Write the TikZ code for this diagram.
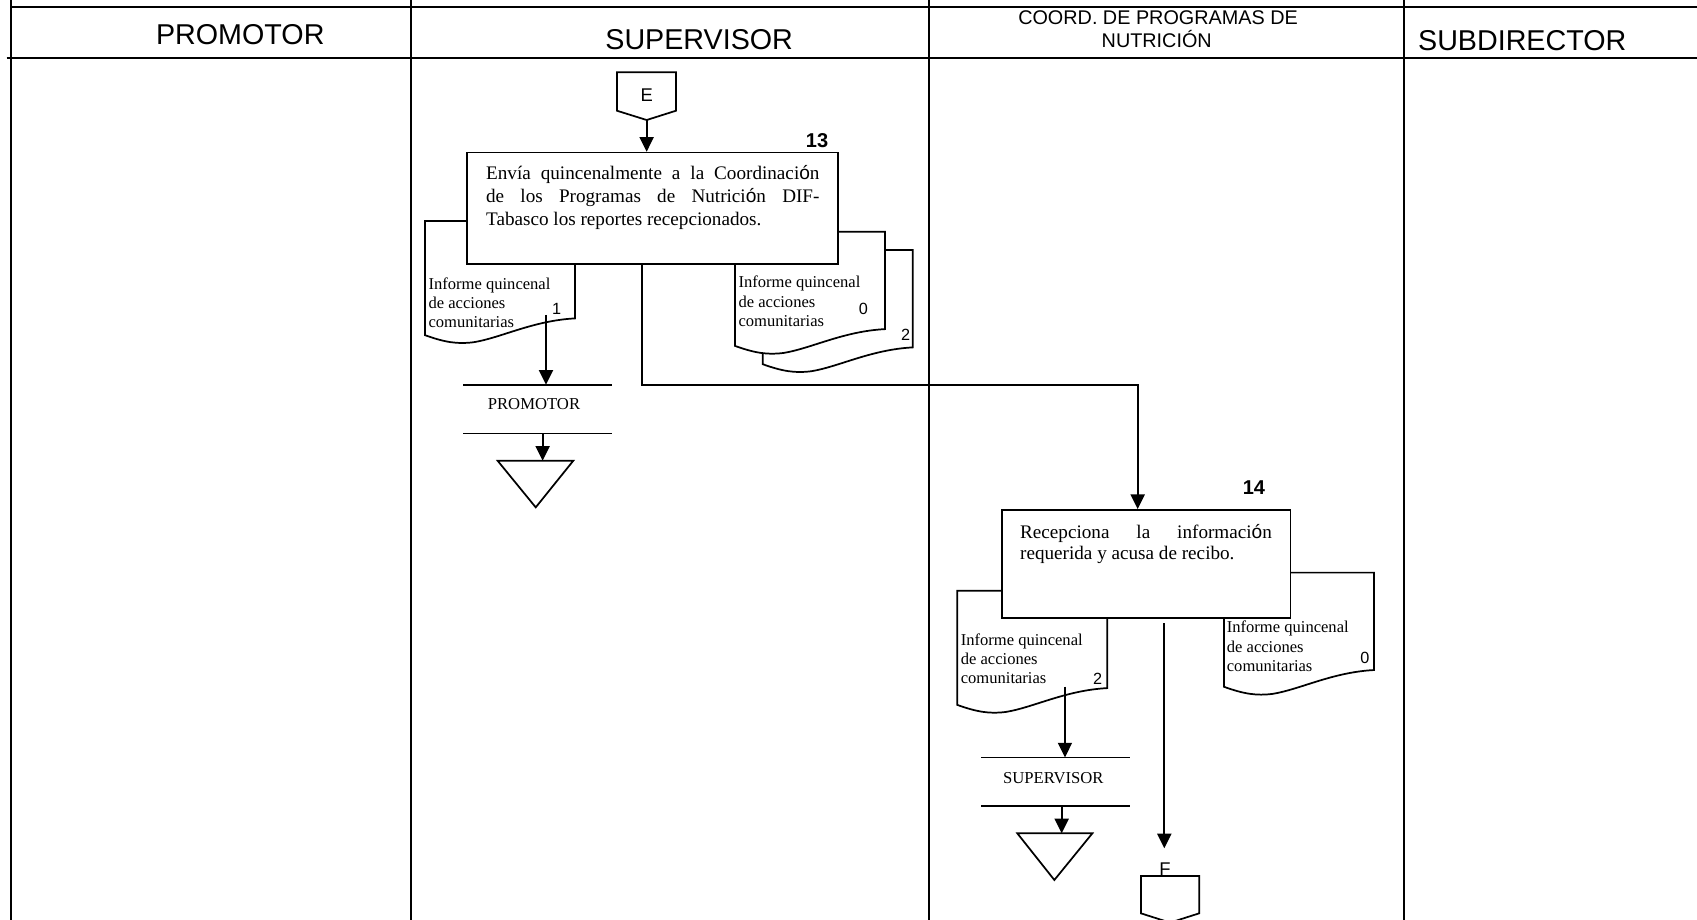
\documentclass[tikz,border=0pt]{standalone}
\usepackage{fontspec}
\setmainfont{Liberation Serif}
\newfontfamily\arialf{Liberation Sans}
\usetikzlibrary{arrows.meta}

% accented o set in the sans face, as in the printed procedure
\newcommand\sfo{{\arialf ó}}

\tikzset{
  ln/.style={line width=1.6pt},
  flow/.style={ln, -{Triangle[length=13.5pt,width=13pt]}},
  procbox/.style={draw, ln, fill=white, inner sep=0pt},
  hdr/.style={font=\arialf\fontsize{26.5}{30}\selectfont, anchor=base, inner sep=0pt},
  hdrsmall/.style={font=\arialf\fontsize{18.3}{20}\selectfont, anchor=base, inner sep=0pt},
  stepno/.style={font=\arialf\bfseries\fontsize{18.5}{20}\selectfont, anchor=base, inner sep=0pt},
  docno/.style={font=\arialf\fontsize{15}{16}\selectfont, anchor=base, inner sep=0pt},
  doctext/.style={font=\fontsize{15.3}{17.8}\selectfont, anchor=base west, inner sep=0pt},
  boxtext/.style={font=\fontsize{17.7}{20.8}\selectfont, anchor=base west, inner sep=0pt},
  storetext/.style={font=\fontsize{15.4}{17}\selectfont, anchor=base, inner sep=0pt},
  conntext/.style={font=\arialf\fontsize{17}{18}\selectfont, inner sep=0pt},
  storebox/.style={minimum width=137pt, minimum height=44.7pt, inner sep=0pt},
}

% document symbol: name, top-left x, top-left y
\newcommand\flowdoc[3]{%
  \begin{scope}[shift={(#2,#3)}]
    \draw[ln, fill=white] (0,0) -- (138.6,0) -- (138.6,90)
      .. controls (100,92) and (70,108) .. (45,112)
      .. controls (30,114) and (18,112) .. (0,105.5) -- cycle;
    \coordinate (#1) at (0,0);
  \end{scope}}

% three-line document caption
\newcommand\doccaption{\parbox[t]{130pt}{Informe quincenal\\de acciones\\comunitarias}}

\begin{document}
\begin{tikzpicture}[x=1pt, y=-1pt]
\useasboundingbox (0,0) rectangle (1568,850);
\clip (0,0) rectangle (1568,850);
\fill[white] (0,0) rectangle (1568,850);

% swimlanes
\draw[ln] (10.2,0) -- (10.2,850);
\draw[ln] (379.7,0) -- (379.7,850);
\draw[ln] (858.4,0) -- (858.4,850);
\draw[ln] (1297.2,0) -- (1297.2,850);
\draw[ln] (10.2,6.8) -- (1568,6.8);
\draw[ln] (6.2,53.3) -- (1568,53.3);

\node[hdr] (hPromotor) at (222,41.2) {PROMOTOR};
\node[hdr] (hSupervisor) at (646,45.7) {SUPERVISOR};
\node[hdrsmall] (hCoordA) at (1070,22.5) {COORD. DE PROGRAMAS DE};
\node[hdrsmall] (hCoordB) at (1068.8,43.8) {NUTRICIÓN};
\node[hdr] (hSubdir) at (1406.5,46.3) {SUBDIRECTOR};

% connector E
\draw[ln] (570,66.8) -- (624.6,66.8) -- (624.6,102.3) -- (597.5,110.9) -- (570,102.3) -- cycle;
\node[conntext] (Elabel) at (597.5,88.4) {E};
\coordinate (Etip) at (597.5,110.9);

% documents of step 13
\flowdoc{d1}{392.7}{204.2}
\flowdoc{d2a}{704.7}{231}
\flowdoc{d0a}{679.1}{214.1}

% step 13
\node[procbox, minimum width=343.4pt, minimum height=103.2pt] (b13) at (602.9,192.6) {};
\node[boxtext] (b13t) at (449,166.3) {\parbox[t]{308pt}{%
  \makebox[308pt][s]{Envía quincenalmente a la Coordinaci\sfo n}\\
  \makebox[308pt][s]{de los Programas de Nutrici\sfo n DIF-}\\
  Tabasco los reportes recepcionados.}};
\node[stepno] (n13) at (755,136.2) {13};

\node[doctext] (d1t) at (395.8,267.3) {\doccaption};
\node[docno] (d1n) at (514.3,291) {1};
\node[doctext] (d0at) at (682.2,266.1) {\doccaption};
\node[docno] (d0an) at (797.7,291) {0};
\node[docno] (d2an) at (836.8,315) {2};

% archive to PROMOTOR
\node[storebox] (stP) at (496.5,378.05) {};
\draw[ln] (stP.north west) -- (stP.north east) (stP.south west) -- (stP.south east);
\node[storetext] (stPt) at (493.4,378.7) {PROMOTOR};
\draw[ln] (459.8,425.7) -- (529.7,425.7) -- (495,468.8) -- cycle;
\coordinate (trPin) at (501.4,425.7);
\coordinate (d1o) at (504.5,291);

% documents of step 14
\flowdoc{d2b}{884.5}{545.8}
\flowdoc{d0b}{1131}{529.1}

% step 14
\node[procbox, minimum width=267pt, minimum height=100.1pt] (b14) at (1059,521.25) {};
\node[boxtext, font=\fontsize{17.7}{19.8}\selectfont] (b14t) at (942.4,497.4) {\parbox[t]{232.6pt}{%
  \makebox[232.6pt][s]{Recepciona la informaci\sfo n}\\
  requerida y acusa de recibo.}};
\node[stepno] (n14) at (1158.6,457.3) {14};

\node[doctext] (d2bt) at (887.6,596.3) {\doccaption};
\node[docno] (d2bn) at (1014.2,632) {2};
\node[doctext] (d0bt) at (1133.4,584.8) {\doccaption};
\node[docno] (d0bn) at (1261.2,613.5) {0};

% archive to SUPERVISOR
\node[storebox] (stS) at (975.5,722.35) {};
\draw[ln] (stS.north west) -- (stS.north east) (stS.south west) -- (stS.south east);
\node[storetext] (stSt) at (973.2,723.6) {SUPERVISOR};
\draw[ln] (940,770) -- (1009.3,770) -- (974.2,813.1) -- cycle;
\coordinate (trSin) at (981,770);
\coordinate (d2o) at (984,634.5);

% connector F
\draw[ln] (1054.2,809.4) -- (1108,809.4) -- (1108,843.9) -- (1081.1,852.5) -- (1054.2,843.9) -- cycle;
\node[conntext] (Flabel) at (1076.4,803.4) {F};

% flow lines
\coordinate (j1) at (593.5,355.7);
\coordinate (j2) at (1051.2,355.7);
\coordinate (r14) at (1075.8,576);
\coordinate (Fin) at (1075.8,783.8);

\draw[flow] (Etip) -- (b13.north -| Etip);
\draw[flow] (d1o) -- (d1o |- stP.north);
\draw[flow] (stP.south -| trPin) -- (trPin);
\draw[flow] (b13.south -| j1) -- (j1) -- (j2) -- (b14.north -| j2);
\draw[flow] (d2o) -- (d2o |- stS.north);
\draw[flow] (stS.south -| trSin) -- (trSin);
\draw[flow] (r14) -- (Fin);
\end{tikzpicture}
\end{document}
